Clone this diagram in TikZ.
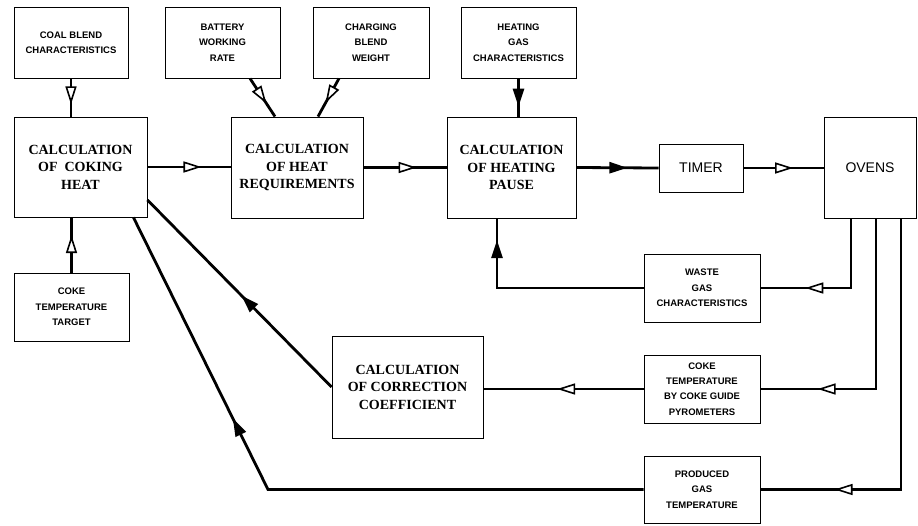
\documentclass[tikz,border=0pt]{standalone}
\usepackage{fontspec}
\setmainfont{Liberation Serif}
\setsansfont{Liberation Sans}
\usetikzlibrary{arrows.meta,decorations.markings,calc}
\begin{document}
\begin{tikzpicture}[x=1pt,y=-1pt,
  box/.style={draw, line width=0.9pt, inner sep=0pt, align=center},
  small/.style={box, font=\sffamily\bfseries\fontsize{9.5}{15.3}\selectfont},
  big/.style={box, font=\bfseries\fontsize{14}{17.5}\selectfont},
  plainbox/.style={box, font=\sffamily\fontsize{14}{15}\selectfont},
  conn/.style={line width=2.8pt},
  oarr/.style={conn, postaction={decorate}, decoration={markings, mark=at position #1 with {\arrow{Triangle[fill=white, length=18pt, width=11pt, line width=1.6pt]}}}},
  farr/.style={conn, postaction={decorate}, decoration={markings, mark=at position #1 with {\arrow{Triangle[length=18pt, width=11pt]}}}}
]
\useasboundingbox (0,0) rectangle (918,525);

% inputs
\node[small, minimum width=114pt, minimum height=71pt] (coal) at (71,42.5) {COAL BLEND\\CHARACTERISTICS};
\node[small, minimum width=115pt, minimum height=71pt] (battery) at (222.5,42.5) {BATTERY\\WORKING\\RATE};
\node[small, minimum width=116pt, minimum height=71pt] (charging) at (371,42.5) {CHARGING\\BLEND\\WEIGHT};
\node[small, minimum width=115pt, minimum height=71pt] (heatgas) at (518.5,42.5) {HEATING\\GAS\\CHARACTERISTICS};

% main row
\node[big, minimum width=133pt, minimum height=100pt] (coking) at (80.5,167) {CALCULATION\\OF \ COKING\\HEAT};
\node[big, minimum width=132pt, minimum height=101pt] (heatreq) at (297,167.5) {CALCULATION\\OF HEAT\\REQUIREMENTS};
\node[big, minimum width=129pt, minimum height=101pt] (pause) at (511.5,167.5) {CALCULATION\\OF HEATING\\PAUSE};
\node[plainbox, minimum width=84pt, minimum height=48pt] (timer) at (701,168) {TIMER};
\node[plainbox, minimum width=92pt, minimum height=101pt] (ovens) at (870,167.5) {OVENS};

% lower
\node[small, minimum width=115pt, minimum height=68pt] (target) at (71.5,307) {COKE\\TEMPERATURE\\TARGET};
\node[small, minimum width=116pt, minimum height=68pt] (waste) at (702,288) {WASTE\\GAS\\CHARACTERISTICS};
\node[big, minimum width=151pt, minimum height=102pt] (corr) at (407.5,387) {CALCULATION\\OF CORRECTION\\COEFFICIENT};
\node[small, minimum width=116pt, minimum height=68pt] (coke) at (702,389) {COKE\\TEMPERATURE\\BY COKE GUIDE\\PYROMETERS};
\node[small, minimum width=116pt, minimum height=67pt] (produced) at (702,489.5) {PRODUCED\\GAS\\TEMPERATURE};

\coordinate (pc) at (268,489.5);

% connectors
\draw[oarr=0.68] (coal.south) -- (coal.south |- coking.north);
\draw[oarr=0.68] (target.north) -- (target.north |- coking.south);
\draw[oarr=0.66] ([xshift=27.5pt]battery.south) -- ([xshift=-22pt]heatreq.north);
\draw[oarr=0.64] ([xshift=-32pt]charging.south) -- ([xshift=21pt]heatreq.north);
\draw[farr=0.74] (heatgas.south) -- (heatgas.south |- pause.north);
\draw[oarr=0.65] (coking.east) -- (heatreq.west |- coking.east);
\draw[oarr=0.64] (heatreq.east) -- (pause.west);
\draw[farr=0.62] (pause.east) -- (timer.west);
\draw[oarr=0.62] (timer.east) -- (ovens.west |- timer.east);
\draw[oarr=0.72] ([xshift=-19pt]ovens.south) |- (waste.east);
\draw[farr=0.9] (waste.west) -| ([xshift=-14.5pt]pause.south);
\draw[oarr=0.8] ([xshift=6pt]ovens.south) |- (coke.east);
\draw[oarr=0.54] (coke.west) -- (corr.east |- coke.west);
\draw[farr=0.49] (corr.west) -- ($(coking.east)+(0,33)$);
\draw[oarr=0.82] ([xshift=31pt]ovens.south) |- (produced.east);
\draw[farr=0.67] (produced.west) -- (pc) -- ($(coking.south east)+(-14,0)$);
\end{tikzpicture}
\end{document}
